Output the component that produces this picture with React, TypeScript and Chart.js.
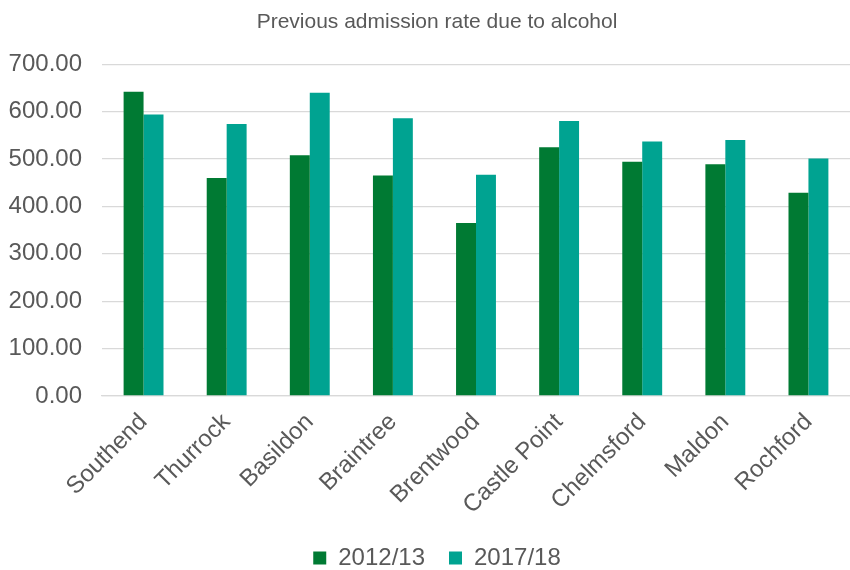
import React, { useEffect, useRef } from "react";
import { Chart, registerables } from "chart.js";

Chart.register(...registerables);

const categories = ["Southend", "Thurrock", "Basildon", "Braintree", "Brentwood", "Castle Point", "Chelmsford", "Maldon", "Rochford"];
const series2012 = [642, 460, 508, 465, 365, 525, 494, 489, 429];
const series2017 = [594, 574, 640, 586, 467, 580, 537, 540, 501];
const seriesNames = ["2012/13", "2017/18"];
const titleText = "Previous admission rate due to alcohol";

const FONT = "'Liberation Sans', Arial, sans-serif";
const TEXT = "#595959";

// let the y-axis labels use the full left margin (the layout is shifted right a little)
const widenYLabelArea = {
  id: "widenYLabelArea",
  afterLayout(chart: any) {
    if (chart.scales.y) chart.scales.y.left = 0;
  },
};

export default function App() {
  const ref = useRef<HTMLCanvasElement | null>(null);
  useEffect(() => {
    if (!ref.current) return;
    const chart = new Chart(ref.current, {
      type: "bar",
      data: {
        labels: categories,
        datasets: [
          { label: seriesNames[0], data: series2012, backgroundColor: "#007A33", borderWidth: 0 },
          { label: seriesNames[1], data: series2017, backgroundColor: "#00A391", borderWidth: 0 },
        ],
      },
      plugins: [widenYLabelArea],
      options: {
        animation: false,
        responsive: false,
        maintainAspectRatio: false,
        layout: { padding: { left: 24, right: 0, top: 0, bottom: -10 } },
        datasets: { bar: { categoryPercentage: 0.48, barPercentage: 1 } },
        plugins: {
          title: {
            display: true,
            text: titleText,
            color: TEXT,
            font: { family: FONT, size: 21, weight: "normal" },
            padding: { top: 10, bottom: 29 },
          },
          legend: {
            position: "bottom",
            labels: {
              color: TEXT,
              font: { family: FONT, size: 24 },
              boxWidth: 13,
              boxHeight: 13,
              padding: 24,
            },
          },
          tooltip: { enabled: false },
        },
        scales: {
          x: {
            afterFit: (scale: any) => {
              scale.height = 126;
            },
            grid: { display: false, drawTicks: false },
            border: { display: true, color: "#d9d9d9", width: 1.3 },
            ticks: {
              color: TEXT,
              font: { family: FONT, size: 24 },
              maxRotation: 45,
              minRotation: 45,
              padding: 12,
              autoSkip: false,
            },
          },
          y: {
            min: 0,
            max: 700,
            afterFit: (scale: any) => {
              scale.width = 78;
            },
            grid: { color: "#d9d9d9", lineWidth: 1.3, drawTicks: false },
            border: { display: false },
            ticks: {
              stepSize: 100,
              color: TEXT,
              font: { family: FONT, size: 24 },
              padding: 20,
              callback: (v: any) => Number(v).toFixed(2),
            },
          },
        },
      },
    });
    return () => chart.destroy();
  }, []);
  return (
    <div style={{ position: "absolute", left: 0, top: 0, width: 850, height: 570, background: "#fff" }}>
      <canvas ref={ref} width={850} height={570} style={{ display: "block" }} />
    </div>
  );
}
